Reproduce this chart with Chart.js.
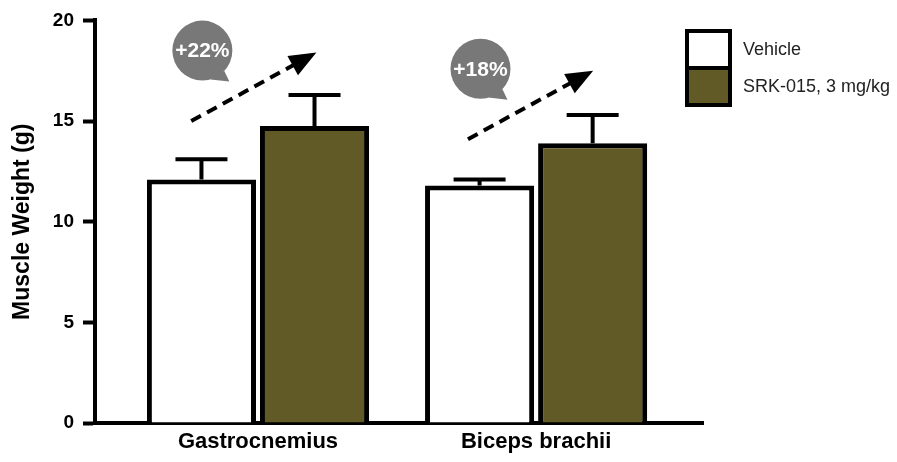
<!DOCTYPE html>
<html>
<head>
<meta charset="utf-8">
<script src="https://cdn.jsdelivr.net/npm/chart.js@4/dist/chart.umd.min.js"></script>
<style>
  html, body { margin: 0; padding: 0; background: #ffffff; }
  #wrap { width: 897px; height: 462px; position: relative; }
</style>
</head>
<body>
<div id="wrap"><canvas id="chart" width="897" height="462"></canvas></div>
<script>
// Muscle weight (g), mean and SEM per treatment group
const categories = ['Gastrocnemius', 'Biceps brachii'];
const seriesNames = ['Vehicle', 'SRK-015, 3 mg/kg'];
const vehicleMeans = [12.1, 11.8];
const vehicleSem = [1.0, 0.3];
const srkMeans = [14.75, 13.9];
const srkSem = [1.55, 1.4];
const changeLabels = ['+22%', '+18%'];
const yTicks = [0, 5, 10, 15, 20];

// Callout layout, in axis units relative to each category centre
const arrowFrom = [[-0.24, 15.0], [-0.245, 14.1]];
const arrowTo = [[0.21, 18.4], [0.205, 17.5]];
const bubbleAt = [[-0.2, 18.5], [-0.2, 17.6]];

const OLIVE = '#615a27';
const FONT = '"Liberation Sans", Arial, Helvetica, sans-serif';

const errorBars = {
  id: 'errorBars',
  afterDatasetsDraw(chart) {
    const ctx = chart.ctx;
    const y = chart.scales.y;
    chart.data.datasets.forEach((ds, i) => {
      const meta = chart.getDatasetMeta(i);
      meta.data.forEach((bar, j) => {
        const top = y.getPixelForValue(ds.data[j].y + ds.sem[j]);
        ctx.save();
        ctx.strokeStyle = '#000';
        ctx.lineWidth = 4;
        ctx.beginPath();
        ctx.moveTo(bar.x, bar.y);
        ctx.lineTo(bar.x, top);
        ctx.moveTo(bar.x - 26, top);
        ctx.lineTo(bar.x + 26, top);
        ctx.stroke();
        ctx.restore();
      });
    });
  }
};

const callouts = {
  id: 'callouts',
  afterDraw(chart) {
    const ctx = chart.ctx;
    const xs = chart.scales.x, ys = chart.scales.y;
    categories.forEach((c, i) => {
      // dashed trend arrow
      const x0 = xs.getPixelForValue(i + arrowFrom[i][0]);
      const y0 = ys.getPixelForValue(arrowFrom[i][1]);
      const x1 = xs.getPixelForValue(i + arrowTo[i][0]);
      const y1 = ys.getPixelForValue(arrowTo[i][1]);
      const ang = Math.atan2(y1 - y0, x1 - x0);
      const headLen = 27, headHalf = 11;
      const bx = x1 - headLen * Math.cos(ang), by = y1 - headLen * Math.sin(ang);
      ctx.save();
      ctx.strokeStyle = '#000';
      ctx.lineWidth = 4;
      ctx.setLineDash([11, 7]);
      ctx.beginPath();
      ctx.moveTo(x0, y0);
      ctx.lineTo(bx + 2 * Math.cos(ang), by + 2 * Math.sin(ang));
      ctx.stroke();
      ctx.setLineDash([]);
      ctx.fillStyle = '#000';
      ctx.beginPath();
      ctx.moveTo(x1, y1);
      ctx.lineTo(bx + headHalf * Math.sin(ang), by - headHalf * Math.cos(ang));
      ctx.lineTo(bx - headHalf * Math.sin(ang), by + headHalf * Math.cos(ang));
      ctx.closePath();
      ctx.fill();

      // speech bubble with the percentage change
      const cx = xs.getPixelForValue(i + bubbleAt[i][0]);
      const cy = ys.getPixelForValue(bubbleAt[i][1]);
      const r = 30;
      ctx.fillStyle = '#787878';
      ctx.beginPath();
      ctx.arc(cx, cy, r, 0, Math.PI * 2);
      ctx.fill();
      ctx.beginPath();
      ctx.moveTo(cx + r * Math.cos(0.75), cy + r * Math.sin(0.75));
      ctx.lineTo(cx + 27, cy + 31);
      ctx.lineTo(cx + r * Math.cos(1.3), cy + r * Math.sin(1.3));
      ctx.closePath();
      ctx.fill();
      ctx.fillStyle = '#ffffff';
      ctx.font = 'bold 21px ' + FONT;
      ctx.textAlign = 'center';
      ctx.textBaseline = 'middle';
      ctx.fillText(changeLabels[i], cx, cy + 1);
      ctx.restore();
    });
  }
};

const boxLegend = {
  id: 'boxLegend',
  afterDraw(chart) {
    const ctx = chart.ctx;
    const left = 687, top = 31, w = 43, h = 37;
    ctx.save();
    chart.data.datasets.forEach((ds, i) => {
      const ty = top + i * h;
      ctx.fillStyle = ds.backgroundColor;
      ctx.fillRect(left, ty, w, h);
      ctx.strokeStyle = '#000';
      ctx.lineWidth = 4;
      ctx.strokeRect(left, ty, w, h);
      ctx.fillStyle = '#222';
      ctx.font = '18px ' + FONT;
      ctx.textAlign = 'left';
      ctx.textBaseline = 'middle';
      ctx.fillText(ds.label, 743, ty + h / 2 + 1);
    });
    ctx.restore();
  }
};

new Chart(document.getElementById('chart'), {
  type: 'bar',
  data: {
    datasets: [
      {
        label: seriesNames[0],
        data: vehicleMeans.map((v, i) => ({ x: i, y: v })),
        sem: vehicleSem,
        backgroundColor: '#ffffff',
        borderColor: '#000',
        borderWidth: 5,
        borderSkipped: 'start'
      },
      {
        label: seriesNames[1],
        data: srkMeans.map((v, i) => ({ x: i, y: v })),
        sem: srkSem,
        backgroundColor: OLIVE,
        borderColor: '#000',
        borderWidth: 5,
        borderSkipped: 'start'
      }
    ]
  },
  options: {
    responsive: false,
    animation: false,
    devicePixelRatio: 1,
    categoryPercentage: 0.813,
    barPercentage: 0.965,
    layout: { padding: { top: 18, right: 194, left: 0, bottom: 0 } },
    plugins: { legend: { display: false }, tooltip: { enabled: false } },
    scales: {
      x: {
        type: 'linear',
        offset: false,
        min: -0.586,
        max: 1.6,
        afterBuildTicks(scale) { scale.ticks = categories.map((c, i) => ({ value: i })); },
        afterFit(scale) { scale.height = 39; },
        grid: { display: false, drawTicks: false },
        border: { display: true, color: '#000', width: 4 },
        ticks: {
          padding: 6,
          color: '#000',
          font: { family: FONT, size: 22, weight: 'bold' },
          callback: (v) => categories[v]
        }
      },
      y: {
        min: 0,
        max: 20,
        afterBuildTicks(scale) { scale.ticks = yTicks.map(v => ({ value: v })); },
        afterFit(scale) { scale.width = 95; },
        grid: { drawOnChartArea: false, color: '#000', tickLength: 12, tickWidth: 4 },
        border: { display: true, color: '#000', width: 4 },
        ticks: {
          padding: 9,
          color: '#000',
          font: { family: FONT, size: 19, weight: 'bold' }
        },
        title: {
          display: true,
          text: 'Muscle Weight (g)',
          color: '#000',
          padding: { top: 9, bottom: 0 },
          font: { family: FONT, size: 23, weight: 'bold' }
        }
      }
    }
  },
  plugins: [errorBars, callouts, boxLegend]
});
</script>
</body>
</html>
